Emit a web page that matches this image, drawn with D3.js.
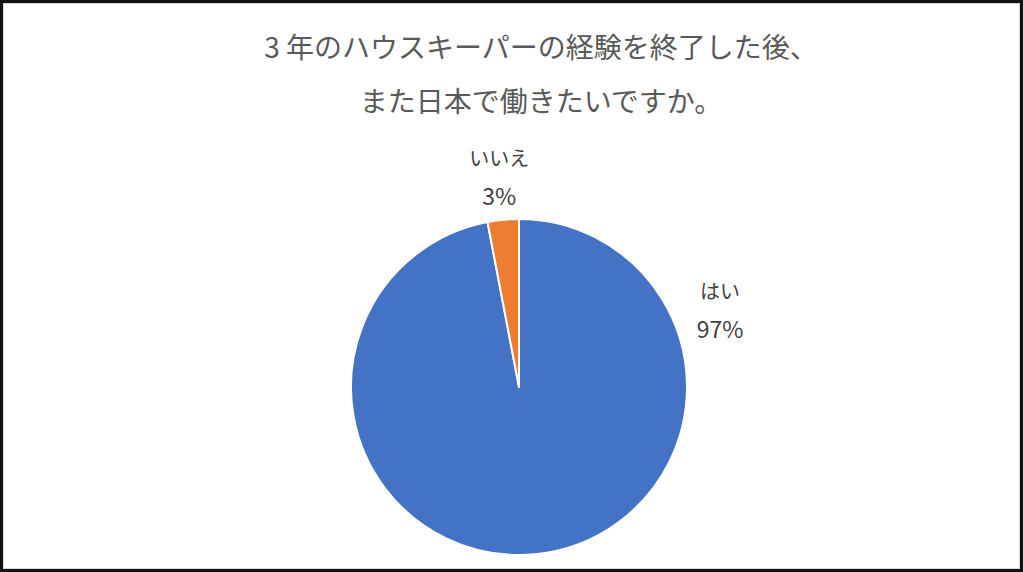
<!DOCTYPE html>
<html>
<head>
<meta charset="utf-8">
<script src="https://cdn.jsdelivr.net/npm/d3@7"></script>
<style>
  html, body { margin: 0; padding: 0; background: #fff; }
  svg { display: block; }
</style>
</head>
<body>
<div id="chart"></div>
<script>
// Chart data
const categories = ['はい', 'いいえ'];
const values = [97, 3];
const colors = ['#4472C4', '#ED7D31'];
const titleLines = ['3 年のハウスキーパーの経験を終了した後、', 'また日本で働きたいですか。'];

const width = 1023;
const height = 572;
const cx = 519;
const cy = 387;
const radius = 168;

const svg = d3.select('#chart')
    .append('svg')
    .attr('width', width)
    .attr('height', height);

// Frame
svg.append('rect')
    .attr('x', 1.5)
    .attr('y', 1.5)
    .attr('width', width - 3)
    .attr('height', height - 3)
    .attr('fill', '#fff')
    .attr('stroke', '#111')
    .attr('stroke-width', 3);

svg.append('rect')
    .attr('x', 3.5)
    .attr('y', 3.5)
    .attr('width', width - 7)
    .attr('height', height - 7)
    .attr('fill', 'none')
    .attr('stroke', '#d9d9d9')
    .attr('stroke-width', 1);

// Title
svg.append('g')
    .selectAll('text')
    .data(titleLines)
    .enter()
    .append('text')
    .attr('x', cx + 22)
    .attr('y', (d, i) => 58 + i * 54)
    .attr('text-anchor', 'middle')
    .style('font-family', '"Noto Sans CJK JP", "Noto Sans", sans-serif')
    .style('font-size', '28px')
    .style('fill', '#595959')
    .text(d => d);

// Pie (starts at 12 o'clock, clockwise)
const pie = d3.pie()
    .sort(null)
    .value(d => d);

const arcs = pie(values);

const arc = d3.arc()
    .innerRadius(0)
    .outerRadius(radius);

const g = svg.append('g')
    .attr('transform', `translate(${cx},${cy})`);

g.selectAll('path')
    .data(arcs)
    .enter()
    .append('path')
    .attr('d', arc)
    .attr('fill', (d, i) => colors[i])
    .attr('stroke', '#fff')
    .attr('stroke-width', 2)
    .attr('stroke-linejoin', 'round');

// Data labels (best-fit placement like Excel)
const total = d3.sum(values);
const labelArc = d3.arc().innerRadius(210).outerRadius(210);
const labelPos = arcs.map((d, i) => {
    if (i === 0) {
        // large slice label sits outside at upper right
        const a = Math.PI * 0.385;
        return [Math.sin(a) * 215, -Math.cos(a) * 215];
    }
    return labelArc.centroid(d);
});

const labels = g.selectAll('.label')
    .data(arcs)
    .enter()
    .append('g')
    .attr('class', 'label')
    .attr('transform', (d, i) => `translate(${labelPos[i][0]},${labelPos[i][1]})`);

labels.append('text')
    .attr('y', -12)
    .attr('text-anchor', 'middle')
    .style('font-family', '"Noto Sans CJK JP", "Noto Sans", sans-serif')
    .style('font-size', '20px')
    .style('fill', '#404040')
    .text((d, i) => categories[i]);

labels.append('text')
    .attr('y', 27)
    .attr('text-anchor', 'middle')
    .style('font-family', '"Noto Sans CJK JP", "Noto Sans", sans-serif')
    .style('font-size', '23px')
    .style('fill', '#404040')
    .text(d => Math.round(d.value / total * 100) + '%');
</script>
</body>
</html>
